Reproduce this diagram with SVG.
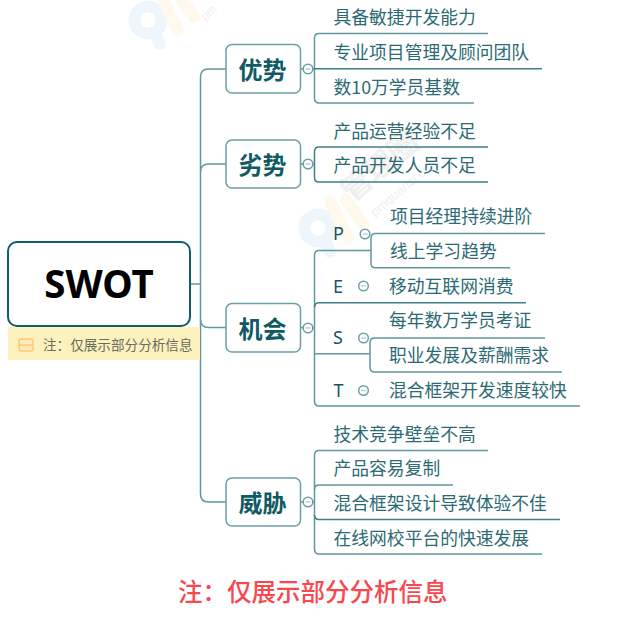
<svg xmlns="http://www.w3.org/2000/svg" width="623" height="617" viewBox="0 0 623 617">
<style>
text{font-family:"Noto Sans CJK SC","Noto Sans",sans-serif}
.c{fill:none;stroke:#62979f;stroke-width:1.5}
.d{fill:none;stroke:#3f7f88;stroke-width:1.5}
.n{fill:#fff;stroke:#6a9fa7;stroke-width:1.5}
.t{font-size:24px;font-weight:700;fill:#0f5a63;text-anchor:middle}
.l{font-size:17.8px;fill:#2c6a73}
.m{font-size:18px;fill:#15555e}
.o{fill:#fff;stroke:#6a9fa7;stroke-width:1.5}
.b{fill:none;stroke:#c5ccd6;stroke-width:1.5}
</style>
<defs>
<g id="logo" fill="none" stroke-linecap="round">
<circle cx="148" cy="20" r="13.500" stroke="#eef6fc" stroke-width="12"/>
<path d="M155 34L160 44" stroke="#eef6fc" stroke-width="12"/>
<path d="M160 -6L178 30" stroke="#fef9ec" stroke-width="12"/>
<path d="M176 -8L194 17" stroke="#fef9ec" stroke-width="12"/>
</g>
</defs>
<g id="watermark">
<use href="#logo"/>
<use href="#logo" x="170" y="208"/>
<text x="205" y="21" transform="rotate(-40 205 21)" font-size="12" fill="#f0f0f0" style="font-family:'Liberation Sans',sans-serif">pm</text>
<text x="375" y="217" transform="rotate(-40 375 217)" font-size="13" fill="#f0f0f0" style="font-family:'Liberation Sans',sans-serif">pmquanzi.com</text>
<text x="352" y="203" transform="rotate(-40 352 203)" font-size="30" font-weight="700" fill="#f0f0f0">管理圈</text>
</g>
<g id="connectors">
<path class="c" d="M226 69H208.500Q200.500 69 200.500 77V494Q200.500 502 208.500 502H226"/>
<path class="c" d="M226 164H208.500Q200.500 164 200.500 172"/>
<path class="c" d="M226 327.500H208.500Q200.500 327.500 200.500 319.500"/>
<path class="c" d="M190 284H200.500"/>
<path class="c" d="M300 69H303M300 164H303M300 327.500H303M300 502H303"/>
<path class="c" d="M488 33.500H319Q314.500 33.500 314.500 38V98Q314.500 103 319 103H474"/>
<path class="d" d="M313 68.700H542"/>
<path class="d" d="M488 147H319Q314.500 147 314.500 151.500V177.500Q314.500 182 319 182H488"/>
<path class="c" d="M313 164.500H314.500"/>
<path class="c" d="M371 250.500H319Q314.500 250.500 314.500 255V401Q314.500 406 319 406H580"/>
<path class="d" d="M526 302.700H319Q314.500 302.700 314.500 307"/>
<path class="c" d="M313 328H314.500"/>
<path class="c" d="M314.500 353.700H370"/>
<path class="c" d="M545 233.500H375.500Q371 233.500 371 238V263Q371 267.800 375.500 267.800H510"/>
<path class="c" d="M545 338H374.500Q370 338 370 342.500V367Q370 372 374.500 372H562"/>
<path class="c" d="M488 450.500H319Q314.500 450.500 314.500 455V549Q314.500 554 319 554H542"/>
<path class="c" d="M453 485H319Q314.500 485 314.500 489.500"/>
<path class="d" d="M314.500 515Q314.500 519.500 319 519.500H560"/>
<path class="c" d="M313 502H314.500"/>
</g>
<g id="root">
<rect x="8" y="242" width="182" height="84" rx="9" fill="#fff" stroke="#0f5f68" stroke-width="2"/>
<text x="99" y="298" font-size="38.500" font-weight="700" fill="#000" text-anchor="middle" style="font-family:'Noto Sans',sans-serif">SWOT</text>
</g>
<g id="note">
<rect x="8" y="327" width="192" height="33" fill="#fdf2bd"/>
<rect x="19" y="339" width="14" height="12" rx="2.500" fill="#fde9c0" stroke="#fbcb6d" stroke-width="1.500"/>
<path d="M19 345H33" stroke="#fbcb6d" stroke-width="1.500"/>
<text x="43" y="350" font-size="13.600" fill="#6b6b5e">注：仅展示部分分析信息</text>
</g>
<g id="n-youshi">
<rect class="n" x="226" y="44.500" width="74.500" height="48.500" rx="6"/>
<text class="t" x="262.500" y="79">优势</text>
<circle class="o" cx="308" cy="69" r="4.800"/><path class="b" d="M305.500 69H310.500"/>
<text class="l" x="333.500" y="24">具备敏捷开发能力</text>
<text class="l" x="333.500" y="59">专业项目管理及顾问团队</text>
<text class="l" x="333.500" y="94">数10万学员基数</text>
</g>
<g id="n-lieshi">
<rect class="n" x="226" y="140" width="74.500" height="48" rx="6"/>
<text class="t" x="262.500" y="174">劣势</text>
<circle class="o" cx="308" cy="164" r="4.800"/><path class="b" d="M305.500 164H310.500"/>
<text class="l" x="333.500" y="138">产品运营经验不足</text>
<text class="l" x="333.500" y="172">产品开发人员不足</text>
</g>
<g id="n-jihui">
<rect class="n" x="226" y="303.500" width="74.500" height="48.500" rx="6"/>
<text class="t" x="262.500" y="338">机会</text>
<circle class="o" cx="308" cy="328" r="4.800"/><path class="b" d="M305.500 328H310.500"/>
</g>
<g id="n-p">
<text class="m" x="333" y="240" style="font-family:'Noto Sans',sans-serif">P</text>
<circle class="o" cx="365" cy="234" r="4.800"/><path class="b" d="M362.500 234H367.500"/>
<text class="l" x="390" y="223">项目经理持续进阶</text>
<text class="l" x="390" y="258">线上学习趋势</text>
</g>
<g id="n-e">
<text class="m" x="333" y="293" style="font-family:'Noto Sans',sans-serif">E</text>
<circle class="o" cx="363.500" cy="286" r="4.800"/><path class="b" d="M361 286H366"/>
<text class="l" x="389" y="293">移动互联网消费</text>
</g>
<g id="n-s">
<text class="m" x="333" y="344" style="font-family:'Noto Sans',sans-serif">S</text>
<circle class="o" cx="363.500" cy="338" r="4.800"/><path class="b" d="M361 338H366"/>
<text class="l" x="389" y="327">每年数万学员考证</text>
<text class="l" x="389" y="362">职业发展及薪酬需求</text>
</g>
<g id="n-t">
<text class="m" x="333.500" y="397" style="font-family:'Noto Sans',sans-serif">T</text>
<circle class="o" cx="363.500" cy="390.500" r="4.800"/><path class="b" d="M361 390.500H366"/>
<text class="l" x="389" y="397">混合框架开发速度较快</text>
</g>
<g id="n-weixie">
<rect class="n" x="226" y="478" width="74.500" height="48" rx="6"/>
<text class="t" x="262.500" y="512">威胁</text>
<circle class="o" cx="308" cy="502" r="4.800"/><path class="b" d="M305.500 502H310.500"/>
<text class="l" x="333.500" y="441">技术竞争壁垒不高</text>
<text class="l" x="333.500" y="475">产品容易复制</text>
<text class="l" x="333.500" y="510">混合框架设计导致体验不佳</text>
<text class="l" x="333.500" y="545">在线网校平台的快速发展</text>
</g>
<text id="caption" x="178" y="601" font-size="24.500" font-weight="500" fill="#f9474e">注：仅展示部分分析信息</text>
</svg>
